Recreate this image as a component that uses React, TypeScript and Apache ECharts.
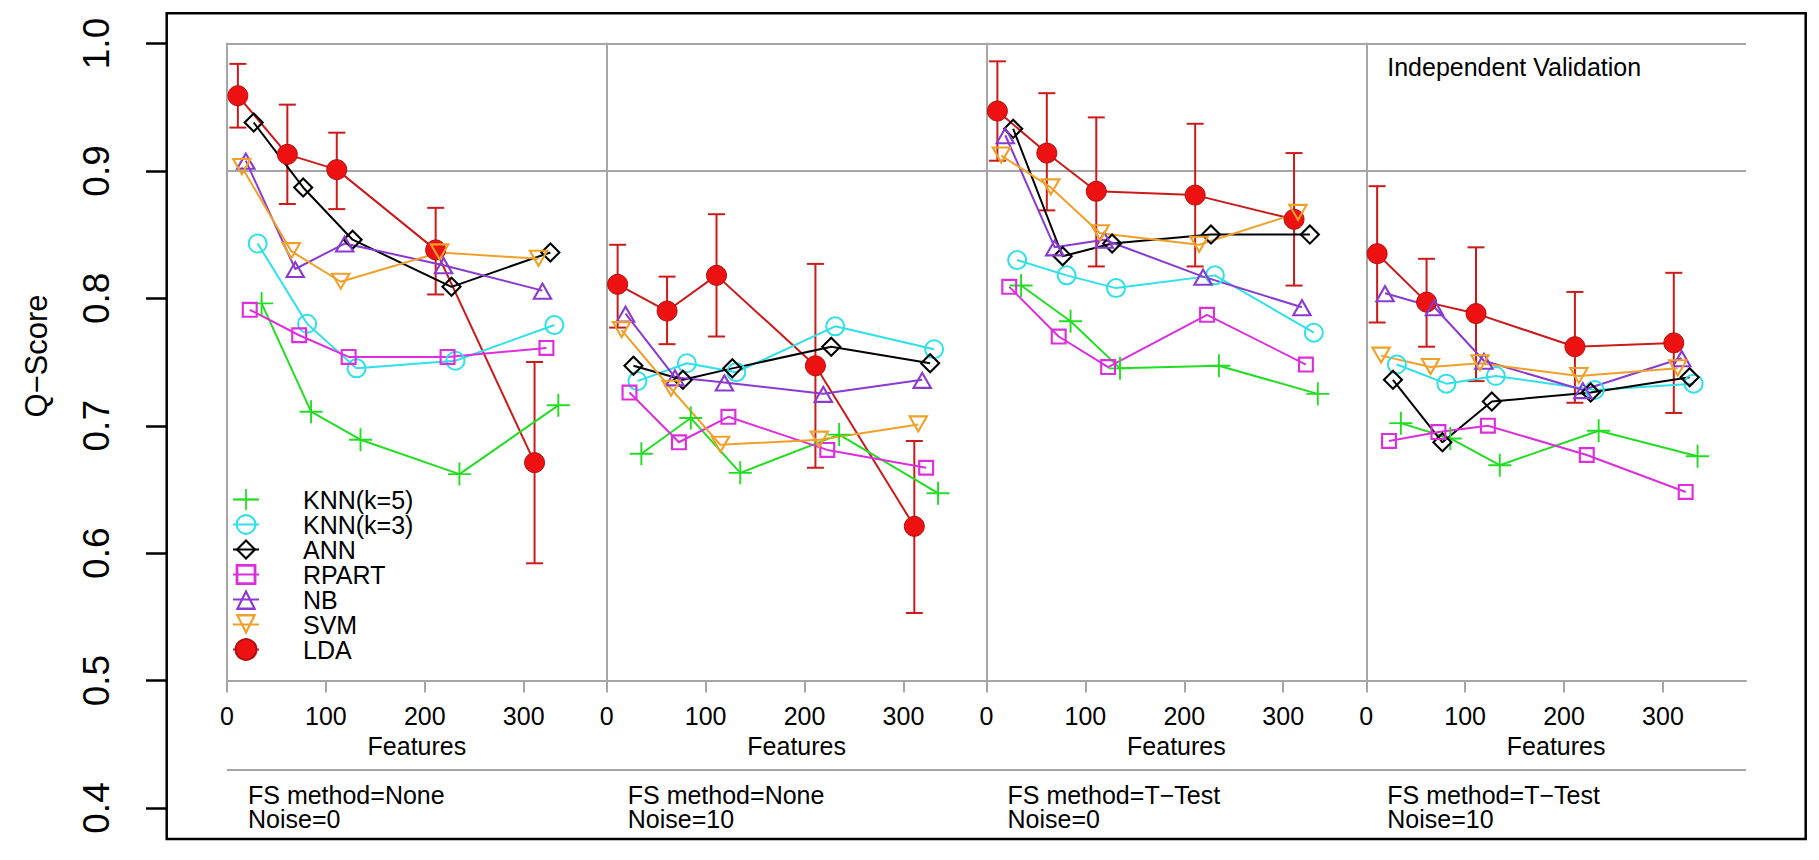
import * as echarts from 'echarts'
import { useEffect, useRef } from 'react'

const FONT = '"Liberation Sans", Arial, sans-serif'

const methods = ['KNN(k=5)', 'KNN(k=3)', 'ANN', 'RPART', 'NB', 'SVM', 'LDA']
const methodColors = ['#22dd22', '#2ee0ea', '#000000', '#dd2edd', '#8a3ad0', '#f0a028', '#cc1a1a']
// points of each method are drawn a little to the right of the feature count so they don't overlap
const methodShift = [25, 21, 17, 13, 9, 5, 1]
const featureCounts = [10, 60, 110, 210, 310]
const xTicks = [0, 100, 200, 300]

const panelTitles = [
  'FS method=None\nNoise=0',
  'FS method=None\nNoise=10',
  'FS method=T−Test\nNoise=0',
  'FS method=T−Test\nNoise=10',
]

// Q-Score, one row per method (same order as methods)
const noneNoise0 = [
  [0.796, 0.711, 0.689, 0.662, 0.716],
  [0.843, 0.780, 0.745, 0.751, 0.779],
  [0.938, 0.887, 0.846, 0.809, 0.836],
  [0.791, 0.771, 0.754, 0.754, 0.761],
  [0.908, 0.823, 0.843, 0.826, 0.806],
  [0.903, 0.837, 0.813, 0.836, 0.831],
  [0.959, 0.913, 0.901, 0.838, 0.671],
]
const noneNoise10 = [
  [0.678, 0.706, 0.663, 0.693, 0.647],
  [0.735, 0.749, 0.742, 0.778, 0.760],
  [0.747, 0.736, 0.745, 0.762, 0.749],
  [0.726, 0.687, 0.707, 0.681, 0.667],
  [0.788, 0.738, 0.734, 0.725, 0.736],
  [0.775, 0.729, 0.685, 0.689, 0.701],
  [0.811, 0.790, 0.818, 0.747, 0.621],
]
const ttestNoise0 = [
  [0.810, 0.782, 0.745, 0.747, 0.725],
  [0.830, 0.818, 0.808, 0.818, 0.773],
  [0.933, 0.833, 0.843, 0.850, 0.850],
  [0.809, 0.770, 0.746, 0.787, 0.748],
  [0.928, 0.840, 0.846, 0.817, 0.793],
  [0.912, 0.887, 0.851, 0.842, 0.867],
  [0.947, 0.914, 0.884, 0.881, 0.862],
]
const ttestNoise10 = [
  [0.702, 0.690, 0.669, 0.696, 0.676],
  [0.748, 0.733, 0.739, 0.728, 0.733],
  [0.736, 0.687, 0.719, 0.726, 0.738],
  [0.688, 0.695, 0.700, 0.677, 0.648],
  [0.804, 0.793, 0.751, 0.728, 0.753],
  [0.755, 0.746, 0.749, 0.739, 0.745],
  [0.835, 0.797, 0.788, 0.762, 0.765],
]
const panelScores = [noneNoise0, noneNoise10, ttestNoise0, ttestNoise10]

// LDA error bars per panel
const ldaLow = [
  [0.934, 0.874, 0.870, 0.803, 0.592],
  [0.777, 0.764, 0.770, 0.667, 0.553],
  [0.908, 0.869, 0.825, 0.825, 0.810],
  [0.781, 0.762, 0.735, 0.718, 0.710],
]
const ldaHigh = [
  [0.984, 0.952, 0.930, 0.871, 0.750],
  [0.842, 0.817, 0.866, 0.827, 0.688],
  [0.986, 0.961, 0.942, 0.937, 0.914],
  [0.888, 0.831, 0.840, 0.805, 0.820],
]

// open R-style symbols (rings with a hole, so lines show through)
const plusPath = 'path://M11,0H13V11H24V13H13V24H11V13H0V11H11Z'
const circleRing = 'path://M12,0A12,12,0,1,1,12,24A12,12,0,1,1,12,0Z M12,2.4A9.6,9.6,0,1,0,12,21.6A9.6,9.6,0,1,0,12,2.4Z'
const diamondRing = 'path://M12,0L24,12L12,24L0,12Z M12,3.4L3.4,12L12,20.6L20.6,12Z'
const squareRing = 'path://M0,0H24V24H0Z M3.2,3.2V20.8H20.8V3.2Z'
const triUpRing = 'path://M12,0L24,20.8L0,20.8Z M12,4.8L4.15,18.4L19.85,18.4Z'
const triDownRing = 'path://M0,0L24,0L12,20.8Z M4.15,2.4L12,16L19.85,2.4Z'
const methodSymbols = [plusPath, circleRing, diamondRing, squareRing, triUpRing, triDownRing, 'circle']
const methodSymbolSize = [23, 20, 21, 16, 21, 21, 20]

const GRAY = '#a6a6a6'
const PANEL_LEFT = 227
const PANEL_W = 379.75
const PANEL_TOP = 43.5
const PANEL_H = 637

const panelLeft = (k: number) => PANEL_LEFT + k * PANEL_W

const renderErrorBar = (_params: any, api: any) => {
  const x = api.value(0)
  const hi = api.coord([x, api.value(2)])
  const lo = api.coord([x, api.value(1)])
  const cap = 8.5
  const style = { stroke: methodColors[6], lineWidth: 2 }
  return {
    type: 'group',
    children: [
      { type: 'line', shape: { x1: hi[0], y1: hi[1], x2: lo[0], y2: lo[1] }, style },
      { type: 'line', shape: { x1: hi[0] - cap, y1: hi[1], x2: hi[0] + cap, y2: hi[1] }, style },
      { type: 'line', shape: { x1: lo[0] - cap, y1: lo[1], x2: lo[0] + cap, y2: lo[1] }, style },
    ],
  }
}

const buildOption = (): echarts.EChartsOption => {
  const grid: any[] = [{ left: 166.7, top: PANEL_TOP, width: 1639, height: 764.5 }]
  const xAxis: any[] = [{ gridIndex: 0, type: 'value', show: false, min: 0, max: 1 }]
  const yAxis: any[] = [{
    gridIndex: 0,
    type: 'value',
    min: 0.4,
    max: 1.0,
    interval: 0.1,
    axisLine: { show: false },
    axisTick: { show: true, length: 20.7, lineStyle: { color: '#000', width: 2.5 } },
    axisLabel: { rotate: 90, margin: 52, fontSize: 37, color: '#000', formatter: (v: number) => v.toFixed(1) },
    splitLine: { show: false },
  }]
  const series: any[] = []

  panelScores.forEach((scores, k) => {
    const idx = k + 1
    grid.push({ left: panelLeft(k), top: PANEL_TOP, width: PANEL_W, height: PANEL_H })
    xAxis.push({
      gridIndex: idx,
      type: 'value',
      min: 0,
      max: 384,
      axisLine: { show: true, onZero: false, lineStyle: { color: GRAY, width: 2 } },
      axisTick: { show: true, customValues: xTicks, length: 12, lineStyle: { color: GRAY, width: 2 } },
      axisLabel: { customValues: xTicks, fontSize: 25, color: '#000', margin: 23 },
      splitLine: { show: false },
      name: 'Features',
      nameLocation: 'middle',
      nameGap: 50,
      nameTextStyle: { fontSize: 25, color: '#000' },
    })
    yAxis.push({
      gridIndex: idx,
      type: 'value',
      min: 0.5,
      max: 1.0,
      interval: 0.1,
      axisLine: { show: true, onZero: false, lineStyle: { color: GRAY, width: 2 } },
      axisTick: { show: false },
      axisLabel: { show: false },
      // only the 0.9 and 1.0 lines are drawn
      splitLine: { show: true, lineStyle: { width: 2, color: ['rgba(0,0,0,0)', 'rgba(0,0,0,0)', 'rgba(0,0,0,0)', 'rgba(0,0,0,0)', GRAY, GRAY] } },
    })

    series.push({
      type: 'custom',
      xAxisIndex: idx,
      yAxisIndex: idx,
      silent: true,
      renderItem: renderErrorBar,
      encode: { x: 0, y: [1, 2] },
      data: featureCounts.map((f, i) => [f + methodShift[6], ldaLow[k][i], ldaHigh[k][i]]),
    })

    // LDA first, the open symbols on top of it
    const order = [6, 0, 1, 2, 3, 4, 5]
    order.forEach((m) => {
      series.push({
        type: 'line',
        name: methods[m],
        xAxisIndex: idx,
        yAxisIndex: idx,
        data: scores[m].map((v, i) => [featureCounts[i] + methodShift[m], v]),
        symbol: methodSymbols[m],
        symbolSize: methodSymbolSize[m],
        symbolKeepAspect: true,
        showAllSymbol: true,
        lineStyle: { color: methodColors[m], width: 2 },
        itemStyle: m === 6
          ? { color: '#ee1111', borderColor: '#b01010', borderWidth: 1 }
          : { color: methodColors[m] },
        emphasis: { disabled: true },
      })
    })
  })

  const titles: any[] = panelTitles.map((t, k) => ({
    text: t,
    left: panelLeft(k) + 21,
    top: 783,
    padding: 0,
    textStyle: { fontSize: 25, fontWeight: 'normal', color: '#000', lineHeight: 24, fontFamily: FONT },
  }))
  titles.push({
    text: 'Independent Validation',
    left: panelLeft(3) + 21,
    top: 54,
    padding: 0,
    textStyle: { fontSize: 25, fontWeight: 'normal', color: '#000', lineHeight: 25, fontFamily: FONT },
  })

  return {
    animation: false,
    backgroundColor: '#fff',
    textStyle: { fontFamily: FONT },
    title: titles,
    legend: {
      data: methods,
      orient: 'vertical',
      left: 232,
      top: 487,
      padding: 0,
      itemWidth: 26,
      itemHeight: 26,
      itemGap: 0,
      selectedMode: false,
      textStyle: { fontSize: 25, color: '#000', padding: [0, 0, 0, 39] },
    },
    grid,
    xAxis,
    yAxis,
    series,
    graphic: [
      {
        type: 'rect',
        silent: true,
        shape: { x: 166.7, y: 13.3, width: 1639, height: 825.7 },
        style: { fill: 'none', stroke: '#000', lineWidth: 2.5 },
      },
      {
        type: 'line',
        silent: true,
        shape: { x1: PANEL_LEFT, y1: 770, x2: PANEL_LEFT + 4 * PANEL_W, y2: 770 },
        style: { stroke: GRAY, lineWidth: 2 },
      },
      {
        type: 'text',
        silent: true,
        x: 36,
        y: 356,
        rotation: Math.PI / 2,
        style: { text: 'Q−Score', fontSize: 31, fontFamily: FONT, fill: '#000', align: 'center', verticalAlign: 'middle' },
      },
    ],
  }
}

const App = () => {
  const containerRef = useRef<HTMLDivElement>(null)

  useEffect(() => {
    if (!containerRef.current) return
    const chart = echarts.init(containerRef.current, undefined, { renderer: 'svg' })
    chart.setOption(buildOption())
    return () => {
      chart.dispose()
    }
  }, [])

  return (
    <div
      ref={containerRef}
      style={{ position: 'fixed', left: 0, top: 0, width: 1819, height: 860, background: '#fff' }}
    />
  )
}

export default App
